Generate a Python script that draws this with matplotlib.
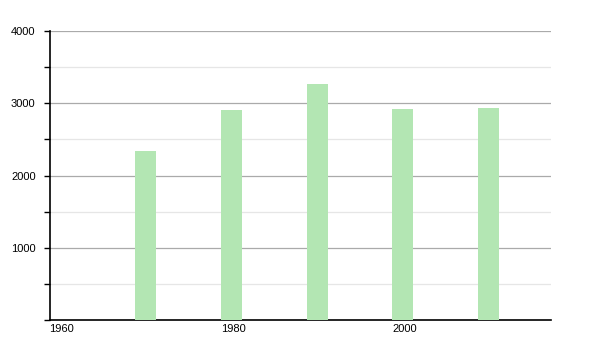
import numpy as np
import matplotlib.pyplot as plt
from matplotlib.ticker import MultipleLocator

# Population by census year
years = [1970, 1980, 1990, 2000, 2010]
population = [2337, 2900, 3264, 2918, 2936]
xticks = [1960, 1980, 2000]
yticks = [1000, 2000, 3000, 4000]

plt.rcParams['font.family'] = ['Liberation Sans', 'DejaVu Sans']
plt.rcParams['font.size'] = 8

fig = plt.figure(figsize=(6, 3.5), dpi=100)
ax = fig.add_axes([49.5/600, 30/350, 501.5/600, 289/350])

ax.bar(years, population, width=2.45, align='edge', color='#b3e6b3', zorder=3)

ax.set_xlim(1960, 2018.5)
ax.set_ylim(0, 4000)
ax.set_xticks(xticks)
ax.set_xticklabels([str(x) for x in xticks], ha='left')
ax.set_yticks(yticks)
ax.yaxis.set_minor_locator(MultipleLocator(500))

ax.grid(axis='y', which='major', color='#aaaaaa', linewidth=0.9, zorder=0)
ax.grid(axis='y', which='minor', color='#e6e6e6', linewidth=0.9, zorder=0)

for s in ['top', 'right']:
    ax.spines[s].set_visible(False)
ax.spines['left'].set_linewidth(1.2)
ax.spines['bottom'].set_linewidth(1.2)
ax.tick_params(axis='x', length=0, pad=3)
ax.tick_params(axis='y', which='both', length=4, width=1, direction='out', pad=6)

plt.savefig('out.png')
